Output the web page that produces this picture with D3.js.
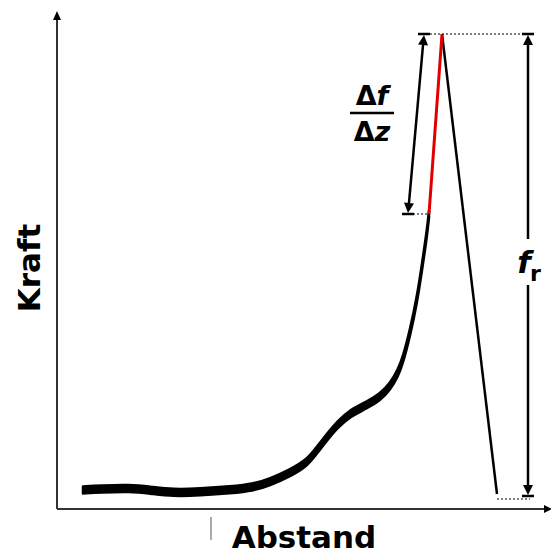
<!DOCTYPE html>
<html><head><meta charset="utf-8">
<script src="https://cdn.jsdelivr.net/npm/d3@7/dist/d3.min.js"></script>
<style>html,body{margin:0;padding:0;background:#fff;}svg{display:block;}</style>
</head><body>
<script>
// ---- data (arbitrary units: distance z, force f) ----
const curveZ = [5.2, 8.6, 14.6, 18.6, 23.2, 28.6, 34.6, 39.6, 42.6, 46.6, 50.0, 52.0, 54.0, 56.0, 58.6, 62.0, 64.6, 66.6, 68.2, 69.2, 70.6, 72.0, 73.0, 74.0, 74.4];
const curveF = [3.8, 4.0, 4.2, 3.8, 3.2, 3.4, 3.8, 4.4, 5.4, 7.2, 9.2, 11.8, 14.4, 16.8, 19.2, 20.8, 22.4, 24.4, 27.2, 29.8, 35.2, 41.8, 48.4, 55.2, 59.0];
const slopeZ = [74.4, 77.0];
const slopeF = [59.0, 95.0];
const ruptureZ = [77.0, 88.0];
const ruptureF = [95.0, 3.0];
const slopeArrowZ = [73.4, 70.2];
const forceArrowZ = 94.2;
const forceArrowF = [95.0, 2.6];
const baseF = 2.0;
const xLabel = "Abstand";
const yLabel = "Kraft";

const W = 551, H = 555;
const x = d3.scaleLinear().domain([0, 100]).range([57, 557]);
const y = d3.scaleLinear().domain([0, 100]).range([509, 9]);

const svg = d3.select("body").append("svg").attr("width", W).attr("height", H);
const font = "'DejaVu Sans', sans-serif";

// axes
const axisColor = "#333";
svg.append("line").attr("x1", x(0)).attr("x2", x(0)).attr("y1", y(0)).attr("y2", 19)
  .attr("stroke", axisColor).attr("stroke-width", 2);
svg.append("path").attr("d", `M${x(0)-4},20 L${x(0)},11 L${x(0)+4},20 Z`).attr("fill", "#000");
svg.append("line").attr("x1", x(0)).attr("x2", 545).attr("y1", y(0)).attr("y2", y(0))
  .attr("stroke", axisColor).attr("stroke-width", 2);
svg.append("path").attr("d", `M544,${y(0)-4} L552,${y(0)} L544,${y(0)+4} Z`).attr("fill", "#000");

// stray tick mark under axis
svg.append("line").attr("x1", 211).attr("x2", 211).attr("y1", 517).attr("y2", 540)
  .attr("stroke", "#555").attr("stroke-width", 1);

// labels
svg.append("text").attr("transform", "translate(40,268) rotate(-90)")
  .attr("text-anchor", "middle").attr("font-family", font).attr("font-weight", "bold")
  .attr("font-size", 31).text(yLabel);
svg.append("text").attr("x", 304).attr("y", 548)
  .attr("text-anchor", "middle").attr("font-family", font).attr("font-weight", "bold")
  .attr("font-size", 31).text(xLabel);

// curve as noisy band
const pts = curveZ.map((z, i) => [z, curveF[i]]);
const band = 3.5;
const area = d3.area().x(d => x(d[0])).y0(d => y(d[1]) + band).y1(d => y(d[1]) - band)
  .curve(d3.curveBasis);
svg.append("path").datum(pts).attr("d", area)
  .attr("fill", "#000").attr("stroke", "#000").attr("stroke-width", 2.5).attr("stroke-linejoin", "round");

// rupture line
svg.append("line").attr("x1", x(ruptureZ[0])).attr("y1", y(ruptureF[0]))
  .attr("x2", x(ruptureZ[1])).attr("y2", y(ruptureF[1]))
  .attr("stroke", "#000").attr("stroke-width", 2.5);

// red slope
svg.append("line").attr("x1", x(slopeZ[0])).attr("y1", y(slopeF[0]))
  .attr("x2", x(slopeZ[1])).attr("y2", y(slopeF[1]))
  .attr("stroke", "#e00000").attr("stroke-width", 3);

// dotted guide lines
function dotted(x1, x2, yy) {
  svg.append("line").attr("x1", x1).attr("x2", x2).attr("y1", yy).attr("y2", yy)
    .attr("stroke", "#000").attr("stroke-width", 1).attr("stroke-dasharray", "2,2");
}
dotted(x(slopeArrowZ[0]) - 6, x(forceArrowZ) + 6, y(slopeF[1]));
dotted(x(slopeArrowZ[1]) + 5, x(slopeZ[0]), y(slopeF[0]));
dotted(x(ruptureZ[1]), x(forceArrowZ) + 2, y(baseF));

// dimension arrow with bar caps
function dimArrow(x1, y1, x2, y2, gap) {
  const dx = x2 - x1, dy = y2 - y1, L = Math.hypot(dx, dy);
  const ux = dx / L, uy = dy / L, px = -uy, py = ux;
  const hl = 11, hw = 5, bw = 6;
  const g = svg.append("g");
  if (gap) {
    g.append("line").attr("x1", x1 + ux*hl).attr("y1", y1 + uy*hl).attr("x2", x1 + ux*gap[0]).attr("y2", y1 + uy*gap[0])
      .attr("stroke", "#000").attr("stroke-width", 2.5);
    g.append("line").attr("x1", x1 + ux*gap[1]).attr("y1", y1 + uy*gap[1]).attr("x2", x2 - ux*hl).attr("y2", y2 - uy*hl)
      .attr("stroke", "#000").attr("stroke-width", 2.5);
  } else {
    g.append("line").attr("x1", x1 + ux*hl).attr("y1", y1 + uy*hl).attr("x2", x2 - ux*hl).attr("y2", y2 - uy*hl)
      .attr("stroke", "#000").attr("stroke-width", 2.5);
  }
  g.append("path").attr("d", `M${x1},${y1+1} L${x1+ux*hl+px*hw},${y1+uy*hl+py*hw} L${x1+ux*hl-px*hw},${y1+uy*hl-py*hw} Z`).attr("fill", "#000");
  g.append("path").attr("d", `M${x2},${y2-1} L${x2-ux*hl+px*hw},${y2-uy*hl+py*hw} L${x2-ux*hl-px*hw},${y2-uy*hl-py*hw} Z`).attr("fill", "#000");
  g.append("line").attr("x1", x1 - bw).attr("x2", x1 + bw).attr("y1", y1).attr("y2", y1).attr("stroke", "#000").attr("stroke-width", 2.5);
  g.append("line").attr("x1", x2 - bw).attr("x2", x2 + bw).attr("y1", y2).attr("y2", y2).attr("stroke", "#000").attr("stroke-width", 2.5);
}
dimArrow(x(slopeArrowZ[0]), y(slopeF[1]), x(slopeArrowZ[1]), y(slopeF[0]));
dimArrow(x(forceArrowZ), y(forceArrowF[0]), x(forceArrowZ), y(forceArrowF[1]), [205, 251]);

// Δf/Δz label
const frac = svg.append("g").attr("font-family", font).attr("font-weight", "bold").attr("font-size", 27);
const t1 = frac.append("text").attr("x", 372).attr("y", 105).attr("text-anchor", "middle");
t1.append("tspan").text("Δ");
t1.append("tspan").attr("font-style", "italic").text("f");
svg.append("line").attr("x1", 350).attr("x2", 394).attr("y1", 113).attr("y2", 113)
  .attr("stroke", "#000").attr("stroke-width", 2.5);
const t2 = frac.append("text").attr("x", 372).attr("y", 141).attr("text-anchor", "middle");
t2.append("tspan").text("Δ");
t2.append("tspan").attr("font-style", "italic").text("z");

// f_r label
svg.append("text").attr("x", 524).attr("y", 273).attr("text-anchor", "middle")
  .attr("font-family", font).attr("font-weight", "bold").attr("font-style", "italic").attr("font-size", 31).text("f");
svg.append("text").attr("x", 530).attr("y", 281)
  .attr("font-family", font).attr("font-weight", "bold").attr("font-size", 22).text("r");
</script>
</body></html>
